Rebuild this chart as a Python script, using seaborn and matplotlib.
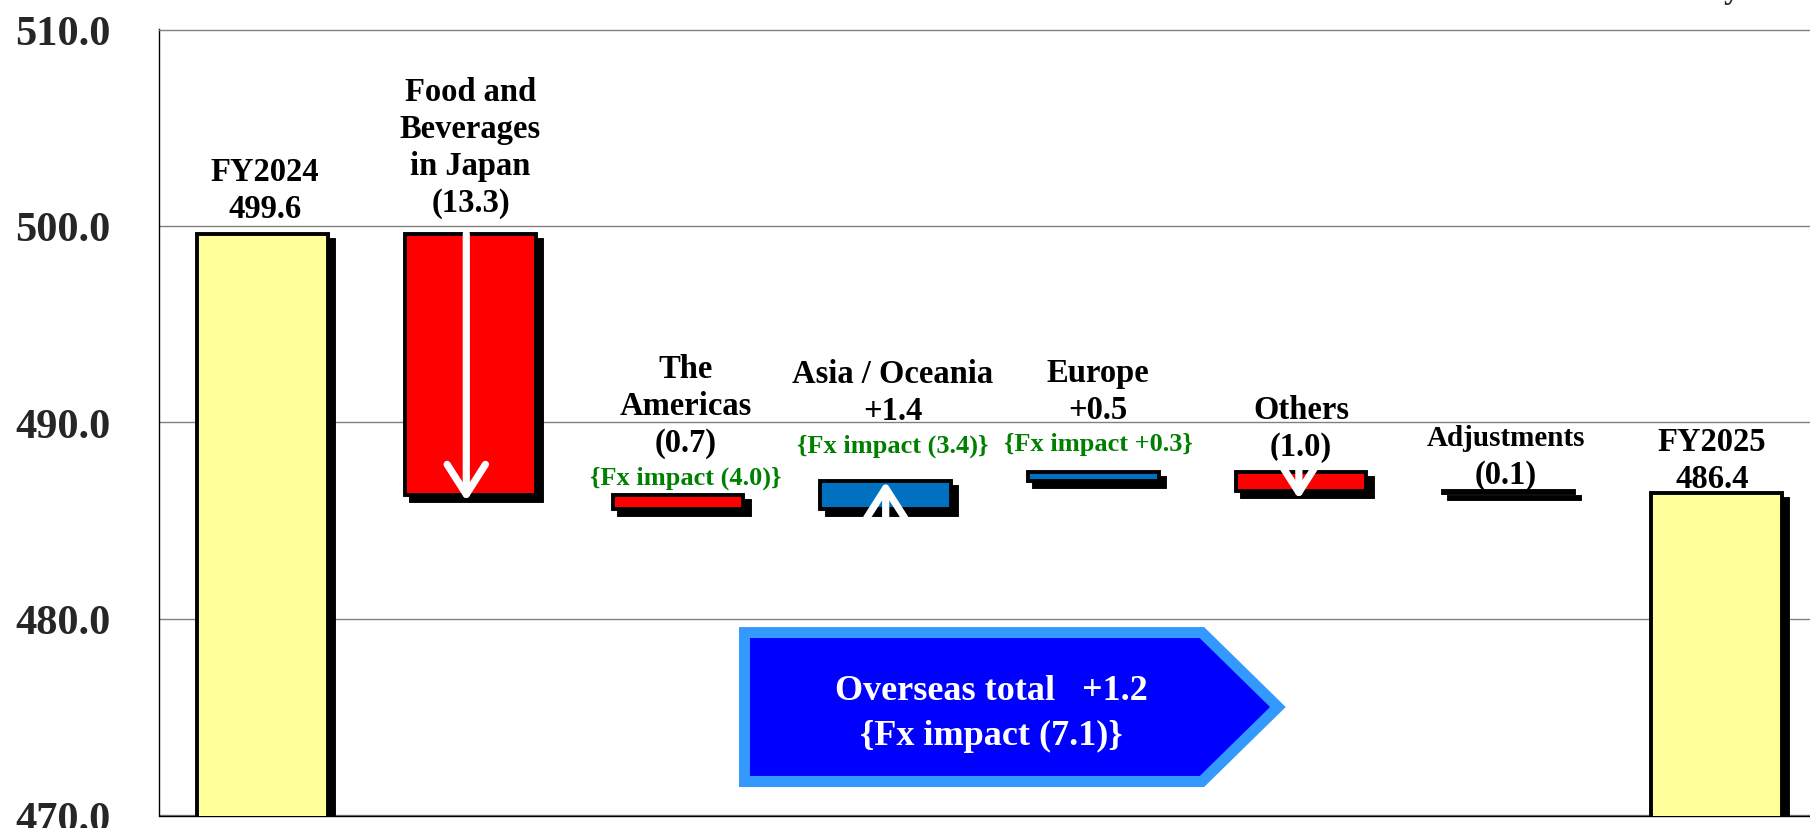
import numpy as np
import pandas as pd
import matplotlib
matplotlib.use("Agg")
import matplotlib.pyplot as plt
import matplotlib.patheffects as pe
from matplotlib.patches import Polygon
import seaborn as sns

# ---- data (billions of yen) ----
categories = ["FY2024", "Food and Beverages in Japan", "The Americas", "Asia / Oceania",
              "Europe", "Others", "Adjustments", "FY2025"]
start_total = 499.6
changes = [-13.3, -0.7, 1.4, 0.5, -1.0, -0.1]
end_total = 486.4

label_lines = [
    ["FY2024", "499.6"],
    ["Food and", "Beverages", "in Japan", "(13.3)"],
    ["The", "Americas", "(0.7)"],
    ["Asia / Oceania", "+1.4"],
    ["Europe", "+0.5"],
    ["Others", "(1.0)"],
    ["Adjustments", "(0.1)"],
    ["FY2025", "486.4"],
]
fx_labels = [None, None, "{Fx impact (4.0)}", "{Fx impact (3.4)}", "{Fx impact +0.3}", None, None, None]
overseas_lines = ["Overseas total   +1.2", "{Fx impact (7.1)}"]
bar_colors = ["#FFFF99", "#FF0000", "#FF0000", "#0070C0", "#0070C0", "#FF0000", "#FF0000", "#FFFF99"]
yticks = [470.0, 480.0, 490.0, 500.0, 510.0]

# waterfall: totals start at 0, changes float on the running total
heights = [start_total] + changes + [end_total]
running = start_total + np.concatenate([[0], np.cumsum(changes)[:-1]])
bottoms = [0.0] + list(running) + [0.0]
df = pd.DataFrame({"cat": categories, "height": heights, "bottom": bottoms})

sns.set_theme(style="white")
plt.rcParams["font.family"] = ["Liberation Serif", "DejaVu Serif"]
plt.rcParams["font.weight"] = "bold"

fig = plt.figure(figsize=(18.1, 8.29), dpi=100)
ax = fig.add_axes([159 / 1810, 1 - 816.5 / 829, 1661 / 1810, 786 / 829])

edge_lw = 2.8
sns.barplot(data=df, x="cat", y="height", hue="cat", palette=bar_colors, legend=False,
            width=0.63, saturation=1, edgecolor="black", linewidth=edge_lw, ax=ax, zorder=3)

# black drop shadow (fill + stroke) under every bar
shadow = [pe.SimplePatchShadow(offset=(4.5, -4.3), shadow_rgbFace="black", alpha=1.0,
                               foreground="black", linewidth=edge_lw), pe.Normal()]
for patch, b in zip(ax.patches, df["bottom"]):
    patch.set_y(b)
    patch.set_path_effects(shadow)

ax.set_ylim(470, 510)
ax.set_xlim(-0.5, 7.5)
ax.set_axisbelow(True)
ax.yaxis.grid(True, color="#808080", lw=1.0)
ax.set_xlabel("")
ax.set_ylabel("")

ax.set_yticks(yticks)
ax.set_yticklabels([f"{v:.1f}" for v in yticks], fontsize=30.5, fontweight="bold")
ax.tick_params(axis="y", direction="in", length=10, width=1, color="#404040", pad=35)
ax.set_xticks(np.arange(0.5, len(categories) - 1, 1.0))
ax.set_xticklabels([])
ax.tick_params(axis="x", direction="in", length=10, width=0.8, color="#404040")

for side in ["left", "bottom"]:
    ax.spines[side].set_color("black")
    ax.spines[side].set_linewidth(1.0)
ax.spines["top"].set_color("#808080")
ax.spines["top"].set_linewidth(1.0)
ax.spines["right"].set_visible(False)

# labels above each bar (offsets in px, converted to points)
gap_px = [17, 23, 12, 30, 22, 17, 9, 6]
dx_px = [2, 0, 8, 7, 5, 0, -3, -4]
line_px = 37
fx_px = 32
for i in range(len(categories)):
    top = max(bottoms[i], bottoms[i] + heights[i]) if 0 < i < len(categories) - 1 else heights[i]
    off = gap_px[i]
    if fx_labels[i]:
        ax.annotate(fx_labels[i], xy=(i, top), xytext=(dx_px[i] * 0.72, off * 0.72),
                    textcoords="offset points", ha="center", va="baseline",
                    fontsize=19, fontweight="bold", color="#008000", zorder=5)
        off += fx_px
    for line in reversed(label_lines[i]):
        size = 21 if line == "Adjustments" else 23.5
        ax.annotate(line, xy=(i, top), xytext=(dx_px[i] * 0.72, off * 0.72),
                    textcoords="offset points", ha="center", va="baseline",
                    fontsize=size, fontweight="bold", color="black", zorder=5)
        off += line_px

# white arrows inside some of the change bars
arrow_bars = {1: (0.0, 0.3, -0.02), 3: (0.4, 0.0, 0.0), 5: (0.24, 0.4, -0.01)}
for i, (ext_tail, ext_tip, dx) in arrow_bars.items():
    b, h = bottoms[i], heights[i]
    sgn = np.sign(h)
    tail = b - sgn * ext_tail
    tip = b + h + sgn * ext_tip
    ax.annotate("", xy=(i + dx, tip), xytext=(i + dx, tail),
                arrowprops=dict(arrowstyle="->,head_length=1.8,head_width=1.15", color="white",
                                lw=5.2, shrinkA=0, shrinkB=0, capstyle="round", joinstyle="round"),
                zorder=6)

# overseas total callout
box = Polygon([(2.32, 479.31), (4.523, 479.31), (4.889, 475.52), (4.523, 471.73), (2.32, 471.73)],
              closed=True, facecolor="#0000FF", edgecolor="#3399FF", lw=7.9, joinstyle="miter", zorder=4)
ax.add_patch(box)
ax.text(3.507, 475.22, "\n".join(overseas_lines), ha="center", va="center", color="white",
        fontsize=26, fontweight="bold", linespacing=1.45, zorder=5)

# unit label, cut off at the top edge in the original
fig.text(1724 / 1810, 1 + 2 / 829, "yen", ha="left", va="baseline", fontsize=23.5, fontweight="bold")

fig.savefig("out.png", dpi=100)
